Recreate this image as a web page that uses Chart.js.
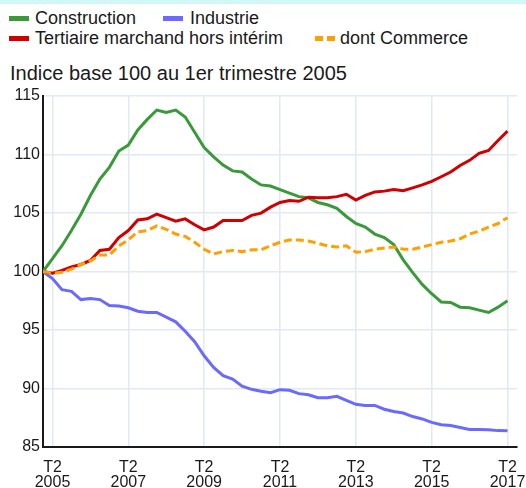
<!DOCTYPE html>
<html>
<head>
  <meta charset="UTF-8" />
  <title>Emploi salarié par secteur</title>
  <script src="https://cdn.jsdelivr.net/npm/chart.js"></script>
  <style>
    body {
      margin: 0;
      background: #fff;
      font-family: "Liberation Sans", Arial, sans-serif;
      color: #1a1a1a;
    }
    #wrap {
      position: relative;
      width: 526px;
      height: 488px;
      overflow: hidden;
    }
    .topband {
      position: absolute;
      left: 0; top: 0;
      width: 526px; height: 4px;
      background: #d2f7f7;
    }
    .legend-row {
      position: absolute;
      left: 0;
      height: 20px;
      line-height: 20px;
      font-size: 18px;
      white-space: nowrap;
    }
    .item { position: absolute; top: 0; }
    .swatch {
      position: absolute;
      top: 8px;
      width: 20px;
      height: 5px;
    }
    .subtitle {
      position: absolute;
      left: 10px;
      top: 61px;
      line-height: 24px;
      font-size: 20px;
      white-space: nowrap;
    }
    #chartBox {
      position: absolute;
      left: 0; top: 0;
      width: 526px; height: 488px;
    }
  </style>
</head>
<body>
<div id="wrap">
  <div class="topband"></div>

  <div class="legend-row" style="top:8px">
    <span class="swatch" style="left:9px;background:#3a9a3a"></span>
    <span class="item" style="left:35px">Construction</span>
    <span class="swatch" style="left:163px;background:#6a6aff"></span>
    <span class="item" style="left:190px">Industrie</span>
  </div>
  <div class="legend-row" style="top:28px">
    <span class="swatch" style="left:9px;background:#d00000"></span>
    <span class="item" style="left:35px">Tertiaire marchand hors intérim</span>
    <span class="swatch" style="left:315px;background:repeating-linear-gradient(to right,#ffa000 0 8px,transparent 8px 12px)"></span>
    <span class="item" style="left:340px">dont Commerce</span>
  </div>

  <div class="subtitle">Indice base 100 au 1er trimestre 2005</div>

  <div id="chartBox"><canvas id="chart"></canvas></div>
</div>

<script>
  // quarters T1 2005 .. T2 2017
  const quarters = [];
  for (let y = 2005; y <= 2017; y++) {
    for (let q = 1; q <= 4; q++) {
      if (y === 2017 && q > 2) break;
      quarters.push('T' + q + ' ' + y);
    }
  }

  const tickLabels = ['T2 2005', 'T2 2007', 'T2 2009', 'T2 2011', 'T2 2013', 'T2 2015', 'T2 2017'];

  const construction = [100, 101.1, 102.2, 103.5, 104.9, 106.5, 107.9, 108.9, 110.3, 110.8,
    112.1, 113.0, 113.8, 113.6, 113.8, 113.2, 111.9, 110.6, 109.8, 109.1,
    108.6, 108.5, 107.9, 107.4, 107.3, 107.0, 106.7, 106.4, 106.3, 105.9,
    105.7, 105.4, 104.7, 104.1, 103.8, 103.2, 102.9, 102.3, 101.0, 99.9,
    98.9, 98.1, 97.4, 97.35, 96.95, 96.9, 96.7, 96.5, 96.95, 97.5];

  const industrie = [100, 99.39, 98.45, 98.3, 97.6, 97.7, 97.6, 97.1, 97.05, 96.9,
    96.6, 96.5, 96.5, 96.1, 95.7, 94.9, 94.0, 92.8, 91.8, 91.1,
    90.8, 90.2, 89.93, 89.76, 89.64, 89.9, 89.85, 89.56, 89.47, 89.22,
    89.22, 89.33, 88.99, 88.65, 88.55, 88.55, 88.23, 88.03, 87.9, 87.6,
    87.4, 87.1, 86.9, 86.84, 86.67, 86.5, 86.5, 86.47, 86.4, 86.38];

  const tertiaire = [100, 99.86, 100.1, 100.4, 100.6, 100.94, 101.8, 101.9, 102.9, 103.5,
    104.4, 104.5, 104.9, 104.6, 104.3, 104.5, 104.0, 103.56, 103.8, 104.36,
    104.36, 104.36, 104.8, 104.99, 105.5, 105.9, 106.07, 106.0, 106.35, 106.3,
    106.3, 106.4, 106.6, 106.1, 106.5, 106.8, 106.87, 107.0, 106.9, 107.15,
    107.4, 107.7, 108.1, 108.5, 109.06, 109.5, 110.1, 110.34, 111.2, 112.0];

  const commerce = [100, 99.86, 99.94, 100.2, 100.6, 100.9, 101.4, 101.4, 102.2, 102.7,
    103.4, 103.5, 103.9, 103.6, 103.2, 103.0, 102.5, 101.9, 101.5, 101.7,
    101.8, 101.7, 101.85, 101.85, 102.2, 102.5, 102.7, 102.7, 102.6, 102.4,
    102.2, 102.1, 102.2, 101.65, 101.7, 101.9, 102.0, 102.1, 101.9, 101.9,
    102.1, 102.3, 102.5, 102.6, 102.8, 103.2, 103.45, 103.8, 104.1, 104.6];

  const toPoints = arr => arr.map((v, i) => ({ x: i, y: v }));

  function line(label, data, color, order, dash) {
    return {
      label: label,
      data: toPoints(data),
      borderColor: color,
      backgroundColor: color,
      borderWidth: 3,
      borderDash: dash || [],
      pointRadius: 0,
      tension: 0,
      order: order
    };
  }

  const font = { family: '"Liberation Sans", Arial, sans-serif', size: 16 };

  new Chart(document.getElementById('chart'), {
    type: 'line',
    data: {
      datasets: [
        line('Construction', construction, '#3a9a3a', 2),
        line('Industrie', industrie, '#6a6aff', 3),
        line('Tertiaire marchand hors intérim', tertiaire, '#d00000', 1),
        line('dont Commerce', commerce, '#ffa000', 0, [8, 4])
      ]
    },
    options: {
      responsive: true,
      maintainAspectRatio: false,
      animation: false,
      layout: { padding: { top: 96, right: 9, bottom: 0, left: 0 } },
      plugins: {
        legend: { display: false },
        tooltip: { enabled: false }
      },
      scales: {
        x: {
          type: 'linear',
          min: 0,
          max: quarters.length,
          afterBuildTicks: scale => {
            scale.ticks = tickLabels.map(t => ({ value: quarters.indexOf(t) }));
          },
          afterFit: scale => {
            scale.height = 41;
            scale.paddingLeft = 0;
            scale.paddingRight = 0;
          },
          ticks: {
            autoSkip: false,
            maxRotation: 0,
            padding: 13,
            color: '#1a1a1a',
            font: Object.assign({ lineHeight: 0.95 }, font),
            callback: v => quarters[v].split(' ')
          },
          grid: { color: '#e1eaf4', lineWidth: 1.5, drawTicks: false },
          border: { color: '#1a1a1a', width: 2 }
        },
        y: {
          min: 85,
          max: 115,
          afterFit: scale => { scale.width = 43; },
          ticks: {
            stepSize: 5,
            padding: 3,
            color: '#1a1a1a',
            font: font
          },
          grid: { color: '#e1eaf4', lineWidth: 1.5, drawTicks: false },
          border: { color: '#1a1a1a', width: 2 }
        }
      }
    }
  });
</script>
</body>
</html>
